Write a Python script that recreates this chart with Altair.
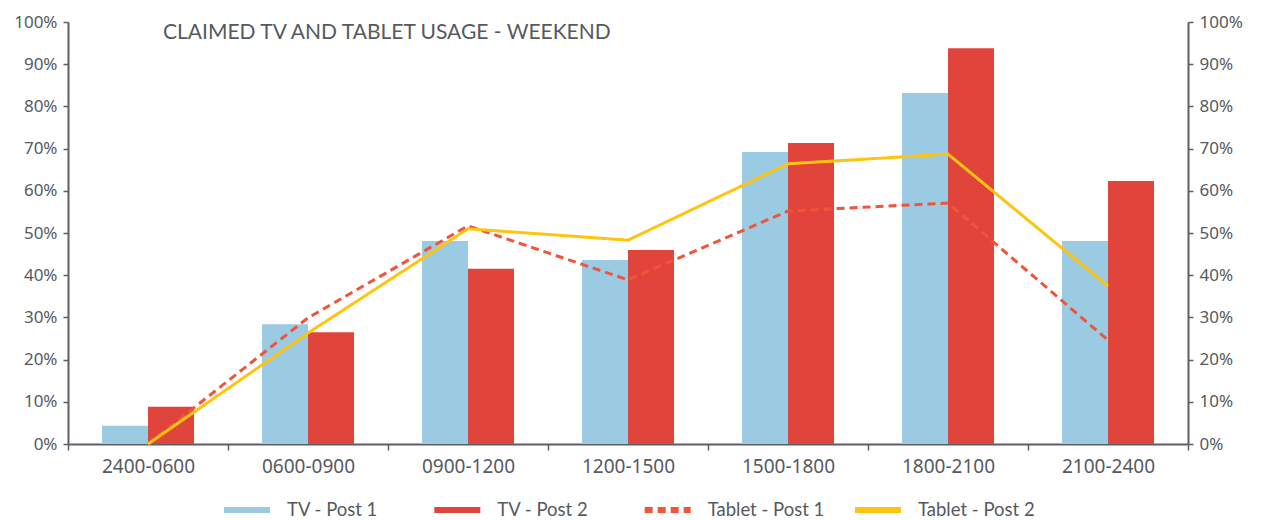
import altair as alt
import pandas as pd

categories = ["2400-0600", "0600-0900", "0900-1200", "1200-1500",
              "1500-1800", "1800-2100", "2100-2400"]
tv_post1 = [0.043, 0.284, 0.481, 0.436, 0.692, 0.832, 0.481]
tv_post2 = [0.088, 0.265, 0.415, 0.460, 0.713, 0.938, 0.623]
tablet_post1 = [0.0, 0.299, 0.517, 0.389, 0.552, 0.571, 0.246]
tablet_post2 = [0.0, 0.263, 0.510, 0.483, 0.664, 0.687, 0.374]

series_names = ["TV -  Post 1", "TV - Post 2", "Tablet - Post 1", "Tablet - Post 2"]
series_colors = ["#9BCAE3", "#E0443A", "#F0553B", "#FFC40F"]
series_dash = [[1, 0], [1, 0], [8, 5], [1, 0]]
series_width = [6, 6, 3, 3]
y_ticks = [0, 0.1, 0.2, 0.3, 0.4, 0.5, 0.6, 0.7, 0.8, 0.9, 1.0]
title_text = "CLAIMED TV AND TABLET USAGE - WEEKEND"

bars_df = pd.DataFrame({
    "cat": categories * 2,
    "series": [series_names[0]] * 7 + [series_names[1]] * 7,
    "value": tv_post1 + tv_post2,
})
lines_df = pd.DataFrame({
    "cat": categories * 2,
    "series": [series_names[2]] * 7 + [series_names[3]] * 7,
    "value": tablet_post1 + tablet_post2,
})
legend_df = pd.DataFrame({"series": series_names})

AX = "#5B5F66"
LBL = "#555A60"
FONT = "Noto Sans"

color_scale = alt.Scale(domain=series_names, range=series_colors)
dash_scale = alt.Scale(domain=series_names, range=series_dash)
y_scale = alt.Scale(domain=[0, 1], nice=False)

x_axis = alt.Axis(title=None, labelAngle=0, tickBand="extent", labelFontSize=19,
                  labelFont=FONT, labelColor=LBL, domainColor=AX, domainWidth=2,
                  tickColor=AX, tickSize=6, tickWidth=1.5, labelPadding=7)
x_enc = alt.X("cat:N", sort=categories,
              scale=alt.Scale(paddingInner=0, paddingOuter=0), axis=x_axis)

def y_axis(orient):
    return alt.Axis(title=None, values=y_ticks, format=".0%", grid=False,
                    orient=orient, labelFontSize=17, labelFont=FONT,
                    labelColor=LBL, domainColor=AX, domainWidth=2,
                    tickColor=AX, tickSize=5, tickWidth=1.5, labelPadding=6)

bar_layer = alt.Chart(bars_df).mark_bar().encode(
    x=x_enc,
    xOffset=alt.XOffset("series:N", sort=series_names[:2],
                        scale=alt.Scale(paddingInner=0, paddingOuter=0.739)),
    y=alt.Y("value:Q", scale=y_scale, axis=y_axis("left")),
    color=alt.Color("series:N", scale=color_scale, legend=None),
)

line_layer = alt.Chart(lines_df).mark_line(strokeWidth=3).encode(
    x=alt.X("cat:N", sort=categories),
    y=alt.Y("value:Q", scale=y_scale),
    color=alt.Color("series:N", scale=color_scale, legend=None),
    strokeDash=alt.StrokeDash("series:N", scale=dash_scale, legend=None),
)

title_layer = alt.Chart(pd.DataFrame({"t": [title_text]})).mark_text(
    align="left", baseline="middle", fontSize=21, font="Lato", color=LBL
).encode(text="t:N", x=alt.value(95), y=alt.value(11))

right_layer = alt.Chart(lines_df).mark_line(opacity=0).encode(
    x=alt.X("cat:N", sort=categories),
    y=alt.Y("value:Q", scale=y_scale, axis=y_axis("right")),
)

top = alt.layer(
    alt.layer(bar_layer, line_layer, title_layer), right_layer
).resolve_scale(y="independent").properties(width=1120, height=422)

leg_base = alt.Chart(legend_df).encode(
    x=alt.X("series:N", sort=series_names, axis=None,
            scale=alt.Scale(type="point", range=[179, 810], padding=0))
)
leg_sym = leg_base.mark_point(shape="stroke", size=2116, filled=False, opacity=1).encode(
    color=alt.Color("series:N", scale=color_scale, legend=None),
    strokeDash=alt.StrokeDash("series:N", scale=dash_scale, legend=None),
    strokeWidth=alt.StrokeWidth("series:N", scale=alt.Scale(domain=series_names, range=series_width), legend=None),
)
leg_txt = leg_base.mark_text(align="left", baseline="middle", dx=40, fontSize=18.5,
                             font="Lato", color=LBL).encode(text="series:N")
legend = alt.layer(leg_sym, leg_txt).properties(width=1120, height=20)

chart = alt.vconcat(top, legend, spacing=22).properties(
    padding={"left": 5, "top": 5, "right": 5, "bottom": 0}
).configure_view(stroke=None)

chart.save("out.html", embed_options={"renderer": "svg", "actions": False})
